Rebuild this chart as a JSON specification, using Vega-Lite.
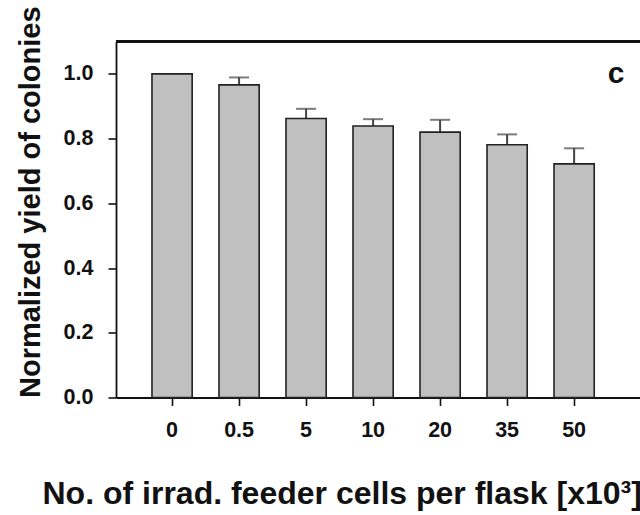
{
  "$schema": "https://vega.github.io/schema/vega-lite/v6.json",
  "autosize": {"type": "none"},
  "padding": {"left": 116, "top": 41.5, "right": 0, "bottom": 117.5},
  "width": 524,
  "height": 356,
  "background": "white",
  "config": {
    "font": "Liberation Sans",
    "view": {"stroke": null},
    "axis": {
      "grid": false,
      "domainColor": "#111",
      "domainWidth": 1.8,
      "tickColor": "#111",
      "tickWidth": 1.6,
      "tickSize": 8,
      "labelFont": "Liberation Sans",
      "labelFontWeight": "bold",
      "labelFontSize": 21.5,
      "labelColor": "#111",
      "titleFont": "Liberation Sans",
      "titleFontWeight": "bold",
      "titleColor": "#111"
    }
  },
  "data": {
    "values": [
      {"cells": "0", "yield": 1.0, "upper": null},
      {"cells": "0.5", "yield": 0.966, "upper": 0.989},
      {"cells": "5", "yield": 0.862, "upper": 0.892},
      {"cells": "10", "yield": 0.839, "upper": 0.86},
      {"cells": "20", "yield": 0.82, "upper": 0.858},
      {"cells": "35", "yield": 0.781, "upper": 0.813},
      {"cells": "50", "yield": 0.722, "upper": 0.77}
    ]
  },
  "encoding": {
    "x": {
      "field": "cells",
      "type": "nominal",
      "sort": null,
      "scale": {"paddingInner": 0.4, "paddingOuter": 0.61, "align": 0.44},
      "axis": {
        "labelAngle": 0,
        "labelPadding": 14,
        "title": "No. of irrad. feeder cells per flask [x10³]",
        "titleFontSize": 32,
        "titleAnchor": "start",
        "titleX": -74,
        "titleY": 106,
        "titleBaseline": "alphabetic"
      }
    }
  },
  "layer": [
    {
      "mark": {"type": "rule", "color": "#444", "strokeWidth": 2},
      "encoding": {
        "y": {"field": "yield", "type": "quantitative"},
        "y2": {"field": "upper"}
      }
    },
    {
      "mark": {"type": "tick", "color": "#444", "size": 20, "thickness": 2, "orient": "horizontal"},
      "encoding": {
        "y": {"field": "upper", "type": "quantitative"}
      }
    },
    {
      "mark": {"type": "bar", "fill": "#c0c0c0", "stroke": "#222", "strokeWidth": 1.6},
      "encoding": {
        "y": {
          "field": "yield",
          "type": "quantitative",
          "scale": {"domain": [0, 1.1], "nice": false, "zero": true},
          "axis": {
            "values": [0, 0.2, 0.4, 0.6, 0.8, 1.0],
            "format": ".1f",
            "labelPadding": 15,
            "title": "Normalized yield of colonies",
            "titleFontSize": 29,
            "titleAngle": -90,
            "titleAnchor": "start",
            "titleAlign": "left",
            "titleX": -77,
            "titleY": 356,
            "titleBaseline": "alphabetic"
          }
        }
      }
    },
    {
      "mark": {"type": "rule", "color": "#111", "strokeWidth": 1.8},
      "encoding": {"y": {"datum": 1.1, "type": "quantitative"}, "x": null}
    },
    {
      "data": {"values": [{"panel": "c", "cells": "50", "pos": 1.0}]},
      "mark": {"type": "text", "font": "Liberation Sans", "fontWeight": "bold", "fontSize": 30, "color": "#111", "dx": 42, "baseline": "middle", "align": "center"},
      "encoding": {
        "x": {"field": "cells", "type": "nominal"},
        "y": {"field": "pos", "type": "quantitative"},
        "text": {"field": "panel"}
      }
    }
  ]
}
